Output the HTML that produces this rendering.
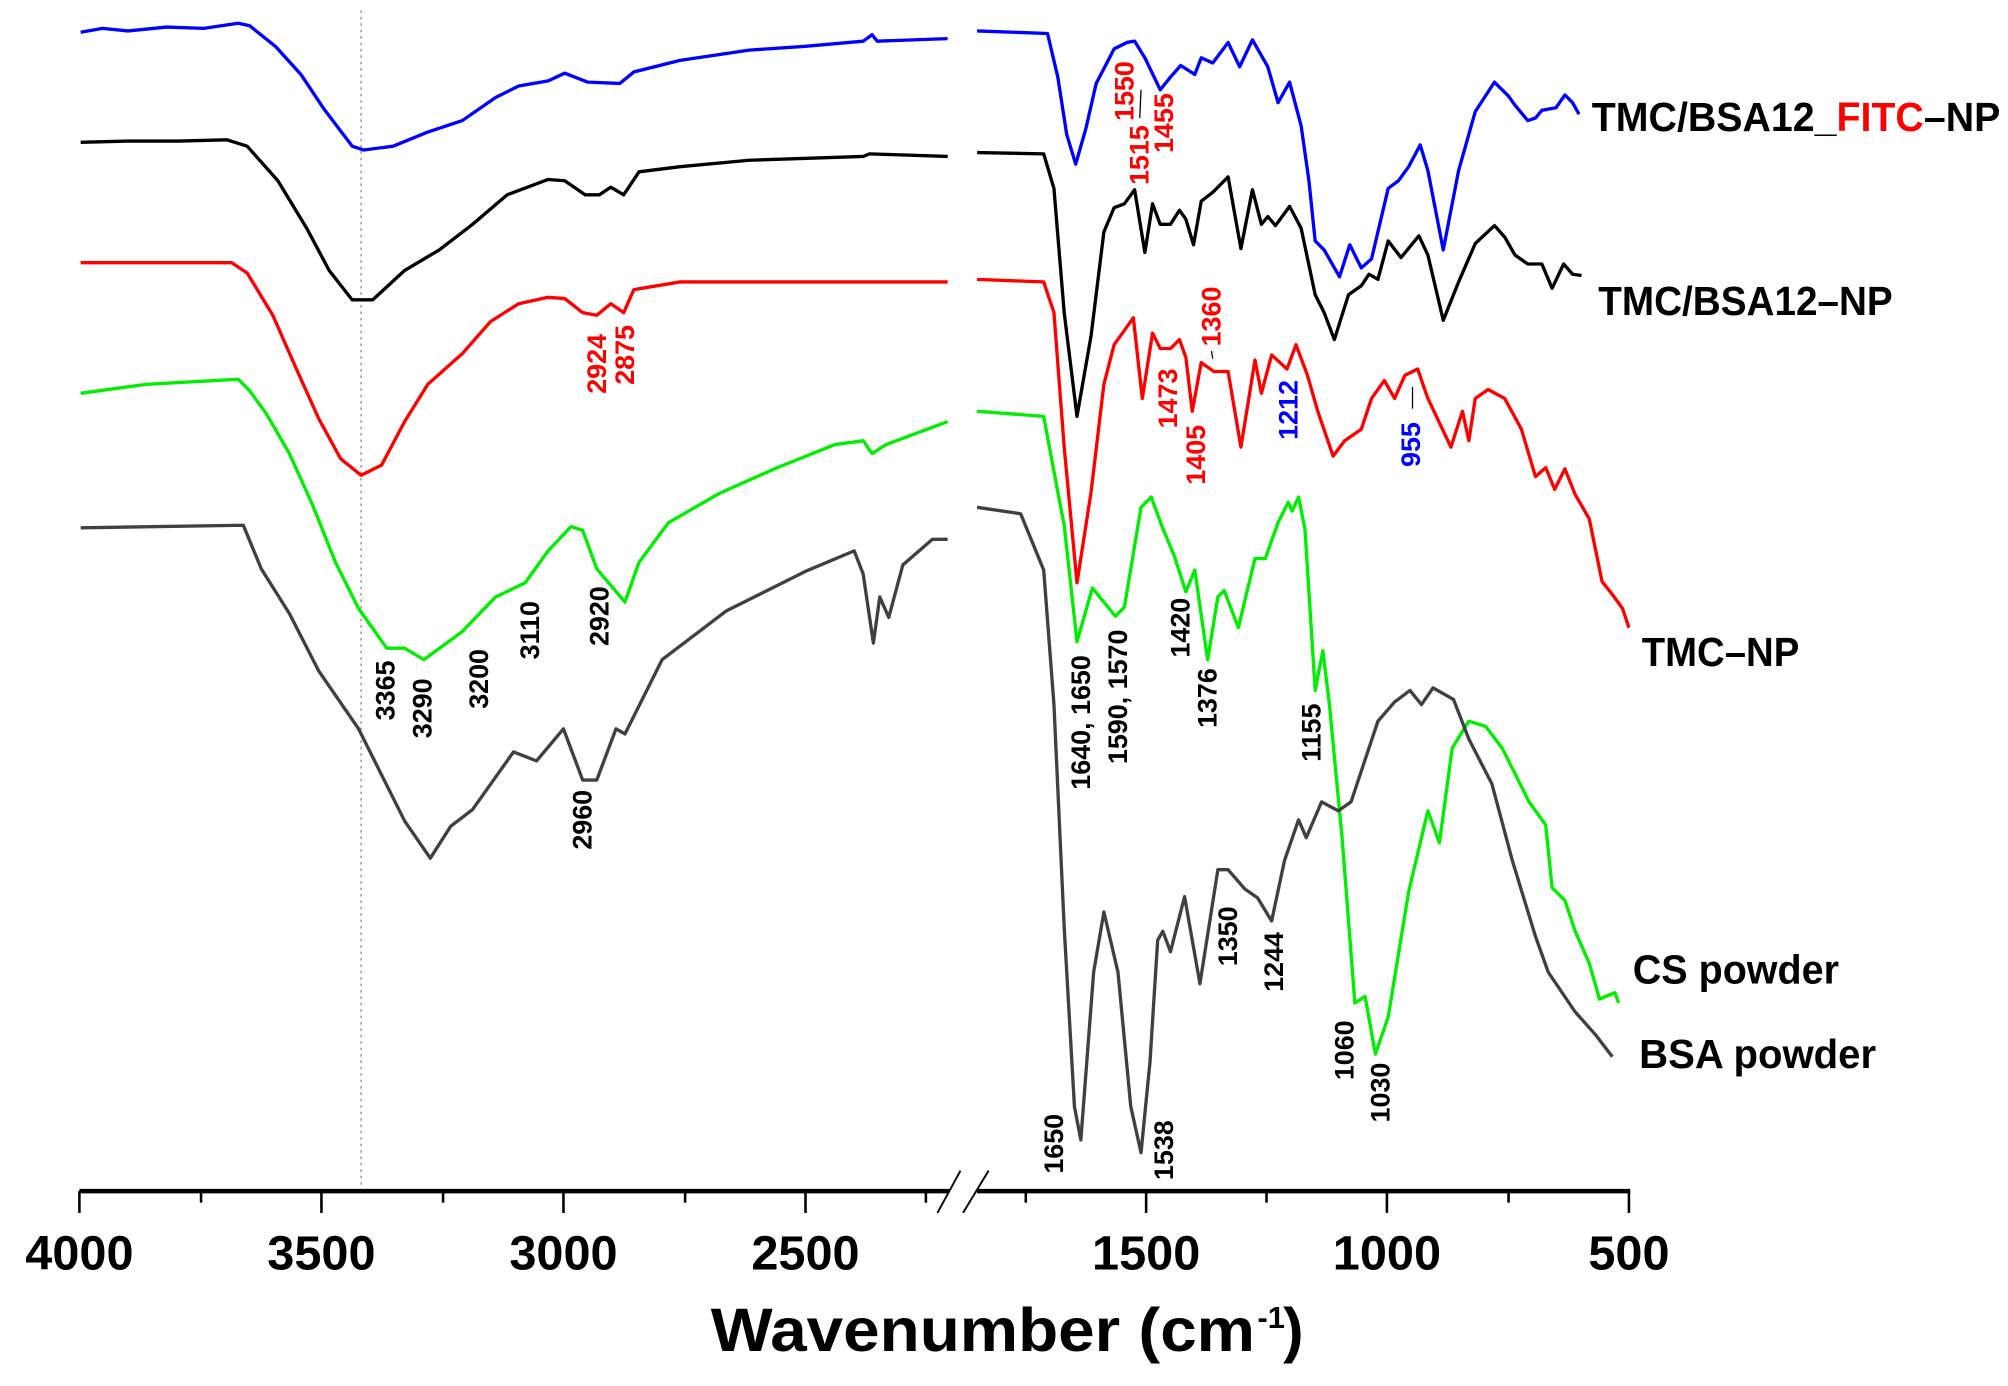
<!DOCTYPE html>
<html><head><meta charset="utf-8"><style>html,body{margin:0;padding:0;background:#fff}svg{display:block}</style></head>
<body>
<svg width="2008" height="1386" viewBox="0 0 1568 1082" xmlns="http://www.w3.org/2000/svg" font-family="Liberation Sans, Arial, sans-serif" font-weight="bold">
<rect width="1568" height="1082" fill="#fff"/>
<line x1="282" y1="8" x2="282" y2="928" stroke="#888" stroke-width="1" stroke-dasharray="2,3"/>
<g fill="none" stroke-width="2.6" stroke-linejoin="round">
<!-- blue -->
<polyline stroke="#0000ff" points="63,25 80,22 100,24 130,21 159,22 186,18 195,20 215,36 235,58 253,85 275,114 284,117 307,114 334,103 361,94 387,76 405,67 428,63 441,57 459,64 484,65 495,56 531,47 585,39 629,36 674,32 681,27 685,32 740,30"/>
<polyline stroke="#0000ff" points="763,24 818,26 826,60 833,105 840,128 848,100 856,65 870,38 880,33 886,32 894,45 906,70 914,60 922,51 933,58 938,45 947,49 959,33 968,52 978,31 990,52 998,80 1007,64 1016,98 1022,140 1027,188 1034,195 1046,216 1054,191 1063,209 1071,202 1084,147 1092,141 1100,130 1109,113 1115,133 1127,195 1139,133 1152,87 1167,64 1178,75 1183,82 1193,94 1199,92 1204,86 1215,84 1222,74 1228,80 1233,89"/>
<!-- black -->
<polyline stroke="#000" points="63,111 100,110 140,110 177,109 193,114 217,141 240,179 257,211 275,234 291,234 316,211 343,195 369,175 396,152 428,140 441,141 457,152 468,152 477,146 487,152 499,134 531,130 585,125 674,122 679,120 740,122"/>
<polyline stroke="#000" points="763,119 815,120 823,147 831,244 841,325 852,262 862,181 870,162 878,159 886,148 894,197 900,159 906,175 914,175 921,164 926,171 932,191 938,157 947,150 959,138 969,194 978,148 985,175 990,169 996,176 1007,161 1016,178 1027,230 1034,244 1042,265 1053,230 1063,223 1069,214 1076,218 1084,188 1094,201 1108,184 1115,199 1127,250 1139,220 1152,190 1167,176 1175,185 1183,199 1193,206 1204,206 1212,225 1221,206 1228,214 1235,215"/>
<!-- red -->
<polyline stroke="#ff0000" points="63,205 181,205 193,213 213,246 231,287 249,327 266,358 282,371 298,363 316,329 334,300 361,276 383,251 405,237 428,232 441,233 455,244 466,246 477,237 487,244 495,226 531,220 740,220"/>
<polyline stroke="#ff0000" points="763,218 815,220 823,244 831,349 841,455 852,384 862,300 870,269 885,248 892,311 900,260 906,272 914,272 921,265 926,279 931,321 938,283 948,290 959,290 969,349 980,281 985,307 993,277 1005,288 1012,269 1021,293 1029,321 1041,356 1050,344 1063,335 1071,311 1081,297 1089,311 1097,293 1107,288 1115,311 1133,349 1142,321 1147,344 1152,311 1162,304 1175,311 1188,335 1199,372 1207,365 1214,382 1222,366 1230,386 1241,405 1251,454 1259,464 1267,475 1272,490"/>
<!-- green -->
<polyline stroke="#00ee00" points="63,307 114,300 186,296 195,305 208,323 226,354 244,394 262,439 280,475 302,506 316,506 331,515 361,493 387,466 410,455 428,430 446,411 455,414 466,444 477,457 488,470 499,439 522,408 562,385 607,365 652,347 674,344 681,354 692,347 740,329"/>
<polyline stroke="#00ee00" points="763,321 815,325 826,384 831,410 841,501 853,459 871,481 878,474 891,396 899,388 907,410 917,434 926,462 933,445 943,515 951,466 956,461 967,490 980,436 988,436 998,408 1006,392 1009,399 1014,388 1019,413 1027,539 1033,508 1038,549 1048,654 1058,783 1066,778 1074,823 1084,794 1100,696 1115,633 1124,658 1134,584 1147,563 1160,567 1173,584 1194,626 1207,644 1212,693 1222,703 1230,727 1241,752 1249,780 1261,775 1264,783"/>
<!-- gray -->
<polyline stroke="#404040" points="63,412 190,410 204,444 226,479 249,524 280,569 298,605 316,641 336,670 352,645 369,632 401,587 419,594 440,569 455,609 466,609 481,569 488,573 517,515 567,477 629,446 667,430 674,448 682,502 687,466 694,482 705,441 728,421 740,421"/>
<polyline stroke="#404040" points="763,396 797,401 815,445 823,550 831,724 839,864 844,890 854,759 862,712 873,759 883,864 891,900 898,829 904,734 908,727 914,743 925,700 937,768 951,679 959,679 972,694 982,701 993,719 1003,672 1014,640 1020,654 1032,626 1045,633 1055,626 1063,602 1076,563 1089,548 1101,539 1110,550 1119,537 1135,546 1147,577 1165,612 1181,672 1199,731 1209,759 1230,790 1246,808 1259,825"/>
</g>
<!-- axis -->
<g stroke="#000">
<line x1="62" y1="930" x2="741" y2="930" stroke-width="3.5"/>
<line x1="763" y1="930" x2="1273" y2="930" stroke-width="3.5"/>
<g stroke-width="2">
<line x1="62" y1="930" x2="62" y2="947"/><line x1="251" y1="930" x2="251" y2="947"/><line x1="440" y1="930" x2="440" y2="947"/><line x1="629" y1="930" x2="629" y2="947"/>
<line x1="157" y1="930" x2="157" y2="939"/><line x1="346" y1="930" x2="346" y2="939"/><line x1="535" y1="930" x2="535" y2="939"/><line x1="723" y1="930" x2="723" y2="939"/>
<line x1="895" y1="930" x2="895" y2="947"/><line x1="1083" y1="930" x2="1083" y2="947"/><line x1="1272" y1="930" x2="1272" y2="947"/>
<line x1="801" y1="930" x2="801" y2="939"/><line x1="989" y1="930" x2="989" y2="939"/><line x1="1178" y1="930" x2="1178" y2="939"/>
<line x1="750" y1="914" x2="732" y2="947" stroke-width="1.5"/><line x1="772" y1="914" x2="752" y2="947" stroke-width="1.5"/>
</g>
<line x1="891" y1="70" x2="890" y2="92" stroke-width="1"/>
<line x1="1103" y1="302" x2="1103" y2="319" stroke-width="1"/>
<line x1="946" y1="274" x2="947" y2="280" stroke-width="1"/>
</g>
<g font-size="38" text-anchor="middle">
<text x="62" y="991">4000</text><text x="251" y="991">3500</text><text x="440" y="991">3000</text><text x="629" y="991">2500</text>
<text x="895" y="991">1500</text><text x="1083" y="991">1000</text><text x="1272" y="991">500</text>
</g>
<text x="555" y="1055" font-size="48" textLength="425" lengthAdjust="spacingAndGlyphs">Wavenumber (cm</text>
<text x="982" y="1037" font-size="24">-1</text>
<text x="1002" y="1055" font-size="48">)</text>
<!-- series labels -->
<g font-size="32">
<text x="1243" y="102" textLength="319" lengthAdjust="spacingAndGlyphs">TMC/BSA12_<tspan fill="#ff0000">FITC</tspan>–NP</text>
<text x="1248" y="246" textLength="230" lengthAdjust="spacingAndGlyphs">TMC/BSA12–NP</text>
<text x="1282" y="520" textLength="123" lengthAdjust="spacingAndGlyphs">TMC–NP</text>
<text x="1275" y="768" textLength="161" lengthAdjust="spacingAndGlyphs">CS powder</text>
<text x="1280" y="834" textLength="185" lengthAdjust="spacingAndGlyphs">BSA powder</text>
</g>
<!-- peak annotations -->
<g font-size="21" text-anchor="middle" dominant-baseline="central">
<g fill="#ff0000">
<text transform="translate(466,284) rotate(-90)">2924</text>
<text transform="translate(488,277) rotate(-90)">2875</text>
<text transform="translate(878,71) rotate(-90)">1550</text>
<text transform="translate(909,96) rotate(-90)">1455</text>
<text transform="translate(890,121) rotate(-90)">1515</text>
<text transform="translate(946,247) rotate(-90)">1360</text>
<text transform="translate(912,311) rotate(-90)">1473</text>
<text transform="translate(934,355) rotate(-90)">1405</text>
</g>
<g fill="#0000ff">
<text transform="translate(1006,320) rotate(-90)">1212</text>
<text transform="translate(1102,347) rotate(-90)">955</text>
</g>
<g fill="#000">
<text transform="translate(301,539) rotate(-90)">3365</text>
<text transform="translate(330,553) rotate(-90)">3290</text>
<text transform="translate(374,530) rotate(-90)">3200</text>
<text transform="translate(414,492) rotate(-90)">3110</text>
<text transform="translate(468,481) rotate(-90)">2920</text>
<text transform="translate(455,640) rotate(-90)">2960</text>
<text transform="translate(844,564) rotate(-90)">1640, 1650</text>
<text transform="translate(873,544) rotate(-90)">1590, 1570</text>
<text transform="translate(922,490) rotate(-90)">1420</text>
<text transform="translate(943,545) rotate(-90)">1376</text>
<text transform="translate(1024,572) rotate(-90)">1155</text>
<text transform="translate(959,731) rotate(-90)">1350</text>
<text transform="translate(995,751) rotate(-90)">1244</text>
<text transform="translate(1050,820) rotate(-90)">1060</text>
<text transform="translate(1078,853) rotate(-90)">1030</text>
<text transform="translate(823,893) rotate(-90)">1650</text>
<text transform="translate(909,898) rotate(-90)">1538</text>
</g>
</g>
</svg>
</body></html>
